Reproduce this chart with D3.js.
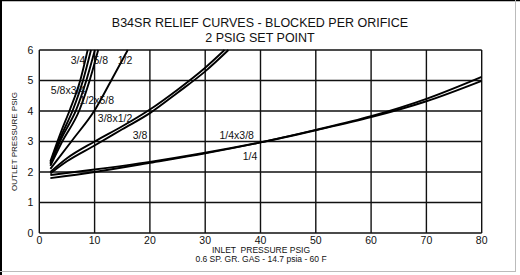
<!DOCTYPE html>
<html>
<head>
<meta charset="utf-8">
<script src="https://cdn.jsdelivr.net/npm/d3@7.9.0/dist/d3.min.js"></script>
</head>
<body style="margin:0">
<div id="chart"></div>
<script>
// inlet pressure (psig) vs outlet pressure (psig), one array per orifice
const orifice34 = [[2, 2.35], [4, 3.35], [5.55, 4.05], [7.4, 5], [8.75, 6]];
const orifice58x34 = [[2, 2.3], [4, 3.2], [6.1, 4.05], [7.9, 5], [9.35, 6]];
const orifice58 = [[2, 2.25], [4, 3.1], [6.7, 4.05], [8.5, 5], [10.05, 6]];
const orifice12x58 = [[2, 2.2], [4, 2.95], [7.3, 4.05], [9.1, 5], [10.65, 6]];
const orifice12 = [[2, 2.1], [6, 3.05], [10.1, 4.05], [13.0, 5], [16, 6]];
const orifice38x12 = [[2, 2.0], [5, 2.45], [10, 3.0], [15, 3.5], [20, 4.05], [25, 4.7], [30, 5.42], [33.5, 6]];
const orifice38 = [[2, 1.95], [5, 2.35], [10, 2.87], [15, 3.4], [20, 3.93], [25, 4.6], [30, 5.3], [34.2, 6]];
const orifice14 = [[2, 1.9], [10, 2.08], [20, 2.33], [30, 2.63], [40, 2.97], [50, 3.37], [60, 3.8], [70, 4.32], [80, 4.99]];
const orifice14x38 = [[2, 1.8], [10, 2.0], [20, 2.3], [30, 2.61], [40, 2.97], [50, 3.38], [60, 3.83], [70, 4.4], [80, 5.12]];

const curves = [orifice34, orifice58x34, orifice58, orifice12x58, orifice12,
                orifice38x12, orifice38, orifice14, orifice14x38];

const labelText = ['3/4', '5/8', '1/2', '5/8x3/4', '1/2x5/8', '3/8x1/2', '3/8', '1/4x3/8', '1/4'];
const labelX = [7.0, 11.1, 15.5, 5.2, 10.4, 13.7, 18.2, 35.7, 38.1];
const labelY = [5.54, 5.54, 5.54, 4.56, 4.23, 3.64, 3.08, 3.08, 2.39];

const xTicks = [0, 10, 20, 30, 40, 50, 60, 70, 80];
const yTicks = [0, 1, 2, 3, 4, 5, 6];

const titleLines = ['B34SR RELIEF CURVES - BLOCKED PER ORIFICE', '2 PSIG SET POINT'];
const xTitleLines = ['INLET  PRESSURE PSIG', '0.6 SP. GR. GAS - 14.7 psia - 60 F'];
const yTitle = 'OUTLET PRESSURE PSIG';

const width = 520;
const height = 275;
const sans = '"Liberation Sans", Arial, sans-serif';
const narrow = '"Liberation Sans Narrow", "Arial Narrow", "Liberation Sans", sans-serif';

const svg = d3.select('#chart')
    .append('svg')
    .attr('width', width)
    .attr('height', height);

const xScale = d3.scaleLinear().domain([0, 80]).range([39.3, 481.7]);
const yScale = d3.scaleLinear().domain([0, 6]).range([233, 50]);

// outer frame
svg.append('line').attr('x1', 0).attr('x2', width).attr('y1', 0.5).attr('y2', 0.5)
    .attr('stroke', '#000').attr('stroke-width', 1.5);
svg.append('line').attr('x1', 1).attr('x2', 1).attr('y1', 0).attr('y2', height)
    .attr('stroke', '#000').attr('stroke-width', 2);
svg.append('line').attr('x1', 515.5).attr('x2', 515.5).attr('y1', 0).attr('y2', 272)
    .attr('stroke', '#bbb').attr('stroke-width', 1);
svg.append('line').attr('x1', 0).attr('x2', 516).attr('y1', 271.5).attr('y2', 271.5)
    .attr('stroke', '#bbb').attr('stroke-width', 1);

// gridlines, one path built from the scales
const gridPath = d3.path();
xTicks.forEach((t) => {
    gridPath.moveTo(xScale(t), yScale(0));
    gridPath.lineTo(xScale(t), yScale(6));
});
yTicks.forEach((t) => {
    gridPath.moveTo(xScale(0), yScale(t));
    gridPath.lineTo(xScale(80), yScale(t));
});
svg.append('path')
    .attr('class', 'grid')
    .attr('d', gridPath.toString())
    .attr('fill', 'none')
    .attr('stroke', '#111')
    .attr('stroke-width', 1.4);

// tick labels
svg.selectAll('text.xtick')
    .data(xTicks)
    .enter()
    .append('text')
    .attr('class', 'xtick')
    .attr('x', (d) => xScale(d))
    .attr('y', yScale(0) + 10.5)
    .attr('text-anchor', 'middle')
    .attr('font-family', sans)
    .attr('font-size', 10.5)
    .attr('fill', '#111')
    .text((d) => d);

svg.selectAll('text.ytick')
    .data(yTicks)
    .enter()
    .append('text')
    .attr('class', 'ytick')
    .attr('x', xScale(0) - 6)
    .attr('y', (d) => yScale(d) + 3.8)
    .attr('text-anchor', 'end')
    .attr('font-family', sans)
    .attr('font-size', 10.5)
    .attr('fill', '#111')
    .text((d) => d);

// curves
const curveLine = d3.line()
    .x((d) => xScale(d[0]))
    .y((d) => yScale(d[1]))
    .curve(d3.curveMonotoneX);

svg.selectAll('path.curve')
    .data(curves)
    .enter()
    .append('path')
    .attr('class', 'curve')
    .attr('d', curveLine)
    .attr('fill', 'none')
    .attr('stroke', '#000')
    .attr('stroke-width', 1.9);

// curve labels
svg.selectAll('text.clabel')
    .data(labelText)
    .enter()
    .append('text')
    .attr('class', 'clabel')
    .attr('x', (d, i) => xScale(labelX[i]))
    .attr('y', (d, i) => yScale(labelY[i]))
    .attr('text-anchor', 'middle')
    .attr('font-family', narrow)
    .attr('font-size', 10.5)
    .attr('fill', '#111')
    .text((d) => d);

// titles
svg.selectAll('text.title')
    .data(titleLines)
    .enter()
    .append('text')
    .attr('class', 'title')
    .attr('x', 260)
    .attr('y', (d, i) => 27 + i * 15)
    .attr('text-anchor', 'middle')
    .attr('font-family', sans)
    .attr('font-size', 12.5)
    .attr('fill', '#111')
    .text((d) => d);

svg.selectAll('text.xtitle')
    .data(xTitleLines)
    .enter()
    .append('text')
    .attr('class', 'xtitle')
    .attr('x', 261)
    .attr('y', (d, i) => 253 + i * 8.5)
    .attr('text-anchor', 'middle')
    .attr('font-family', narrow)
    .attr('font-size', 8.5)
    .attr('fill', '#111')
    .style('white-space', 'pre')
    .text((d) => d);

svg.append('text')
    .attr('transform', `translate(17, ${yScale(3)}) rotate(-90)`)
    .attr('text-anchor', 'middle')
    .attr('font-family', narrow)
    .attr('font-size', 8)
    .attr('fill', '#111')
    .text(yTitle);
</script>
</body>
</html>
